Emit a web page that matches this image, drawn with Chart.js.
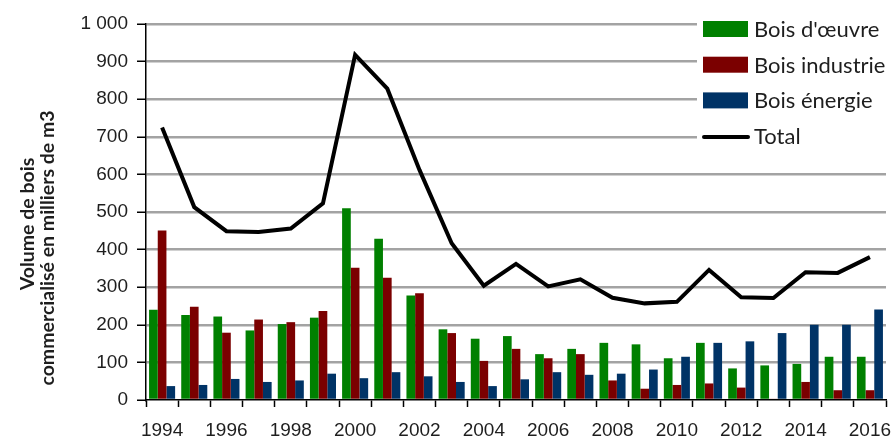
<!DOCTYPE html>
<html lang="fr">
<head>
<meta charset="utf-8">
<title>Volume de bois commercialisé</title>
<script src="https://cdn.jsdelivr.net/npm/chart.js@4.4.1/dist/chart.umd.min.js"></script>
<style>
  html, body { margin: 0; padding: 0; background: #fff; }
  #wrap { position: relative; width: 891px; height: 441px; }
</style>
</head>
<body>
<div id="wrap"><canvas id="chart"></canvas></div>
<script>
// Years on the x axis
const years = ['1994', '1995', '1996', '1997', '1998', '1999', '2000', '2001', '2002', '2003', '2004', '2005',
  '2006', '2007', '2008', '2009', '2010', '2011', '2012', '2013', '2014', '2015', '2016'];

// Volumes in thousands of m3
const boisOeuvre = [240, 226, 222, 185, 202, 219, 510, 429, 278, 188, 163, 170, 122, 136, 152, 148, 111, 152, 84, 92, 96, 115, 115];
const boisIndustrie = [451, 248, 179, 214, 207, 237, 352, 325, 284, 178, 104, 136, 111, 122, 52, 30, 40, 44, 33, 3, 48, 26, 26];
const boisEnergie = [37, 40, 56, 48, 52, 70, 58, 74, 63, 48, 37, 55, 74, 67, 70, 81, 115, 152, 156, 178, 200, 200, 241];
const total = [725, 513, 449, 447, 456, 523, 918, 828, 612, 417, 304, 362, 302, 321, 272, 257, 261, 346, 273, 271, 340, 338, 380];

// Axis text
const yTicks = { min: 0, max: 1000, step: 100 };
const yTitle = ['Volume de bois', 'commercialisé en milliers de m3'];

const tickFont = { family: "'Liberation Sans', Arial, sans-serif", size: 19 };
const textColor = '#1e1e1e';

// Thousands separated by a space, like "1 000"
function formatThousands(v) {
  return String(v).replace(/\B(?=(\d{3})+(?!\d))/g, ' ');
}

// Draws the rotated two-line title on the left
const yTitlePlugin = {
  id: 'yTitle',
  afterDraw(chart) {
    const ctx = chart.ctx;
    const area = chart.chartArea;
    ctx.save();
    ctx.fillStyle = textColor;
    ctx.font = "bold 19.5px Lato, 'Open Sans', sans-serif";
    ctx.textAlign = 'center';
    ctx.textBaseline = 'middle';
    const centers = [[27.5, area.top + 200], [48, area.top + 224]];
    yTitle.forEach((line, i) => {
      ctx.save();
      ctx.translate(centers[i][0], centers[i][1]);
      ctx.rotate(-Math.PI / 2);
      ctx.fillText(line, 0, 0);
      ctx.restore();
    });
    ctx.restore();
  }
};

// Legend drawn inside the plot, top right, on a white patch
const insideLegend = {
  id: 'insideLegend',
  beforeDatasetsDraw(chart) {
    const ctx = chart.ctx;
    const area = chart.chartArea;
    ctx.save();
    ctx.fillStyle = '#fff';
    ctx.fillRect(area.right - 189, area.top - 12, 200, 140);
    ctx.restore();
  },
  afterDraw(chart) {
    const ctx = chart.ctx;
    const area = chart.chartArea;
    const x0 = area.right - 183;
    ctx.save();
    ctx.font = "22px Lato, 'Open Sans', sans-serif";
    ctx.textBaseline = 'middle';
    ctx.textAlign = 'left';
    chart.data.datasets.forEach((ds, i) => {
      const y = area.top + 5 + i * 35.7;
      if (ds.type === 'line') {
        ctx.strokeStyle = ds.borderColor;
        ctx.lineWidth = 4;
        ctx.lineCap = 'round';
        ctx.beginPath();
        ctx.moveTo(x0 + 1, y + 1);
        ctx.lineTo(x0 + 45, y + 1);
        ctx.stroke();
      } else {
        ctx.fillStyle = ds.backgroundColor;
        ctx.fillRect(x0, y - 8, 45, 16);
      }
      ctx.fillStyle = textColor;
      ctx.fillText(ds.label, x0 + 51, y + 1);
    });
    ctx.restore();
  }
};

new Chart(document.getElementById('chart'), {
  type: 'bar',
  data: {
    labels: years,
    datasets: [
      { label: "Bois d'œuvre", data: boisOeuvre, backgroundColor: '#008000', order: 1 },
      { label: 'Bois industrie', data: boisIndustrie, backgroundColor: '#7b0000', order: 1 },
      { label: 'Bois énergie', data: boisEnergie, backgroundColor: '#003366', order: 1 },
      {
        type: 'line', label: 'Total', data: total, borderColor: '#000', backgroundColor: '#000',
        borderWidth: 4, pointRadius: 0, tension: 0, order: 0
      }
    ]
  },
  options: {
    responsive: true,
    maintainAspectRatio: false,
    animation: false,
    layout: { padding: { top: 24, right: 5, bottom: 0, left: 0 } },
    datasets: {
      bar: { categoryPercentage: 0.81, barPercentage: 1.0 }
    },
    plugins: {
      legend: { display: false },
      tooltip: { enabled: false }
    },
    scales: {
      x: {
        offset: true,
        grid: {
          display: true, drawOnChartArea: false, offset: true,
          tickLength: 7, tickColor: '#000', tickWidth: 1.5
        },
        border: { color: '#000', width: 1.5 },
        ticks: {
          autoSkip: false, maxRotation: 0, padding: 12,
          color: textColor, font: tickFont,
          callback: (v, i) => (i % 2 === 0 ? years[i] : '')
        },
        afterFit(scale) {
          scale.height = 41;
          scale.paddingLeft = 0;
          scale.paddingRight = 0;
        }
      },
      y: {
        min: yTicks.min,
        max: yTicks.max,
        grid: {
          color: (c) => (c.tick && c.tick.value === 0 ? 'rgba(0,0,0,0)' : '#a3a3a3'),
          lineWidth: 2.5,
          borderDash: [6, 5],
          borderDashOffset: 6,
          tickLength: 9,
          tickColor: '#000',
          tickWidth: 1.5,
          tickBorderDash: []
        },
        border: { color: '#000', width: 1.5 },
        ticks: {
          stepSize: yTicks.step, padding: 9,
          color: textColor, font: tickFont,
          callback: (v) => formatThousands(v)
        },
        afterFit(scale) {
          scale.width = 146;
          scale.paddingTop = 0;
          scale.paddingBottom = 0;
        }
      }
    }
  },
  plugins: [yTitlePlugin, insideLegend]
});
</script>
</body>
</html>
